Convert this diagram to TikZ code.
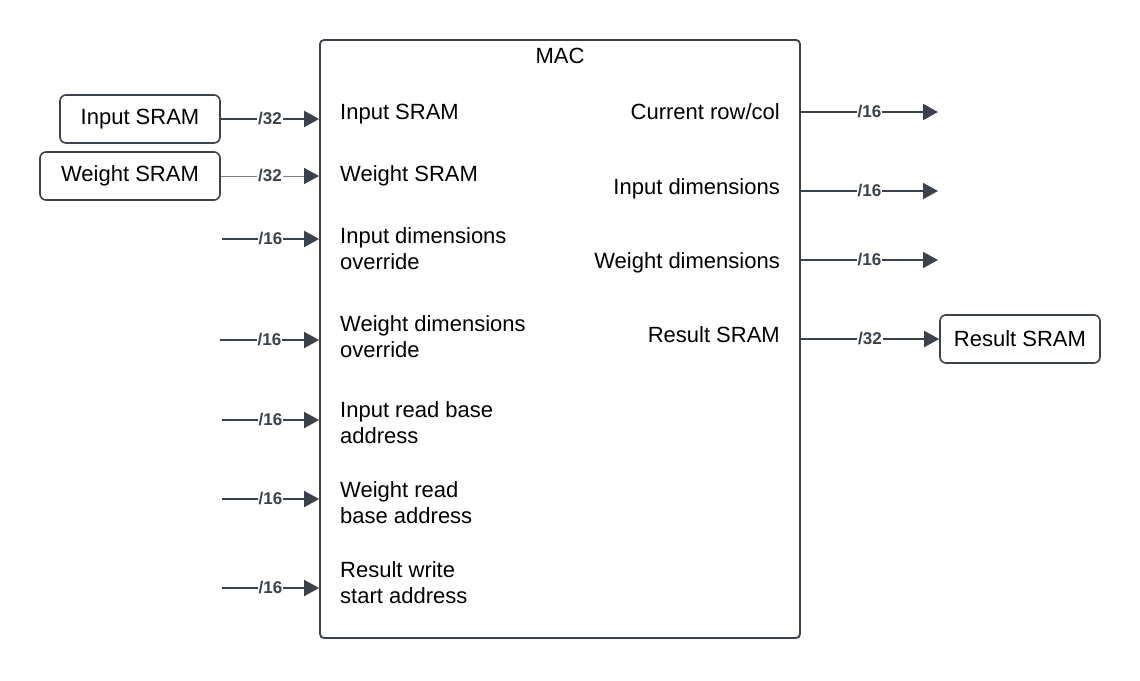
\documentclass[tikz,border=0pt]{standalone}
\usepackage{fontspec}
\setmainfont{Liberation Sans}
\usetikzlibrary{arrows.meta,calc}
\definecolor{lc}{RGB}{60,66,74}
\definecolor{lc2}{RGB}{125,129,135}
\begin{document}
\begin{tikzpicture}[x=1pt,y=-1pt,
  txt/.style={font=\fontsize{22}{26.5}\selectfont, inner sep=0pt, align=left, text=black},
  txtr/.style={font=\fontsize{22}{26.5}\selectfont, inner sep=0pt, align=right, text=black},
  blk/.style={draw=lc, line width=1.6pt, rounded corners=6pt, minimum height=48pt, inner sep=0pt, font=\fontsize{22}{26}\selectfont},
  wire/.style={draw=lc, line width=2pt, -{Triangle[length=15pt,width=16pt]}},
  thinwire/.style={draw=lc2, line width=1pt, -{Triangle[length=15pt,width=16pt,color=lc]}},
  bw/.style={midway, fill=white, inner sep=1pt, font=\fontsize{17}{17}\bfseries\selectfont, text=lc}
]
\useasboundingbox (0,0) rectangle (1140,680);

% MAC block
\node[draw=lc, line width=1.8pt, rounded corners=4pt, minimum width=480pt, minimum height=598pt, inner sep=0pt] (mac) at (560,339) {};
\node[txt, anchor=base] (title) at (560,63) {MAC};

% left labels (anchor = baseline of last line)
\node[txt, anchor=base west] (l1) at (340,119) {Input SRAM};
\node[txt, anchor=base west] (l2) at (340,181) {Weight SRAM};
\node[txt, anchor=base west] (l3) at (340,269.5) {Input dimensions\\override};
\node[txt, anchor=base west] (l4) at (340,357.5) {Weight dimensions\\override};
\node[txt, anchor=base west] (l5) at (340,443.5) {Input read base\\address};
\node[txt, anchor=base west] (l6) at (340,523.5) {Weight read\\base address};
\node[txt, anchor=base west] (l7) at (340,603.5) {Result write\\start address};

% right labels
\node[txtr, anchor=base east] (r1) at (780,119) {Current row/col};
\node[txtr, anchor=base east] (r2) at (780,194) {Input dimensions};
\node[txtr, anchor=base east] (r3) at (780,268) {Weight dimensions};
\node[txtr, anchor=base east] (r4) at (780,342) {Result SRAM};

% external blocks
\node[blk, minimum width=160pt] (isram) at (140,119) {Input SRAM};
\node[blk, minimum width=180pt] (wsram) at (130,176) {Weight SRAM};
\node[blk, minimum width=160pt] (rsram) at (1020,339) {Result SRAM};

% input connectors
\draw[wire] (isram.east) -- (isram.east -| mac.west) node[bw] {/32};
\draw[thinwire] (wsram.east) -- (wsram.east -| mac.west) node[bw] {/32};
\coordinate (s3) at (222,239);
\coordinate (s4) at (220,340);
\coordinate (s5) at (222,420);
\coordinate (s6) at (222,499);
\coordinate (s7) at (222,588);
\foreach \s in {s3,s4,s5,s6,s7}
  \draw[wire] (\s) -- (\s -| mac.west) node[bw] {/16};

% output connectors
\coordinate (o1) at (938,112);
\coordinate (o2) at (938,191);
\coordinate (o3) at (938,260);
\foreach \o in {o1,o2,o3}
  \draw[wire] (\o -| mac.east) -- (\o) node[bw] {/16};
\draw[wire] (rsram.west -| mac.east) -- (rsram.west) node[bw] {/32};
\end{tikzpicture}
\end{document}
